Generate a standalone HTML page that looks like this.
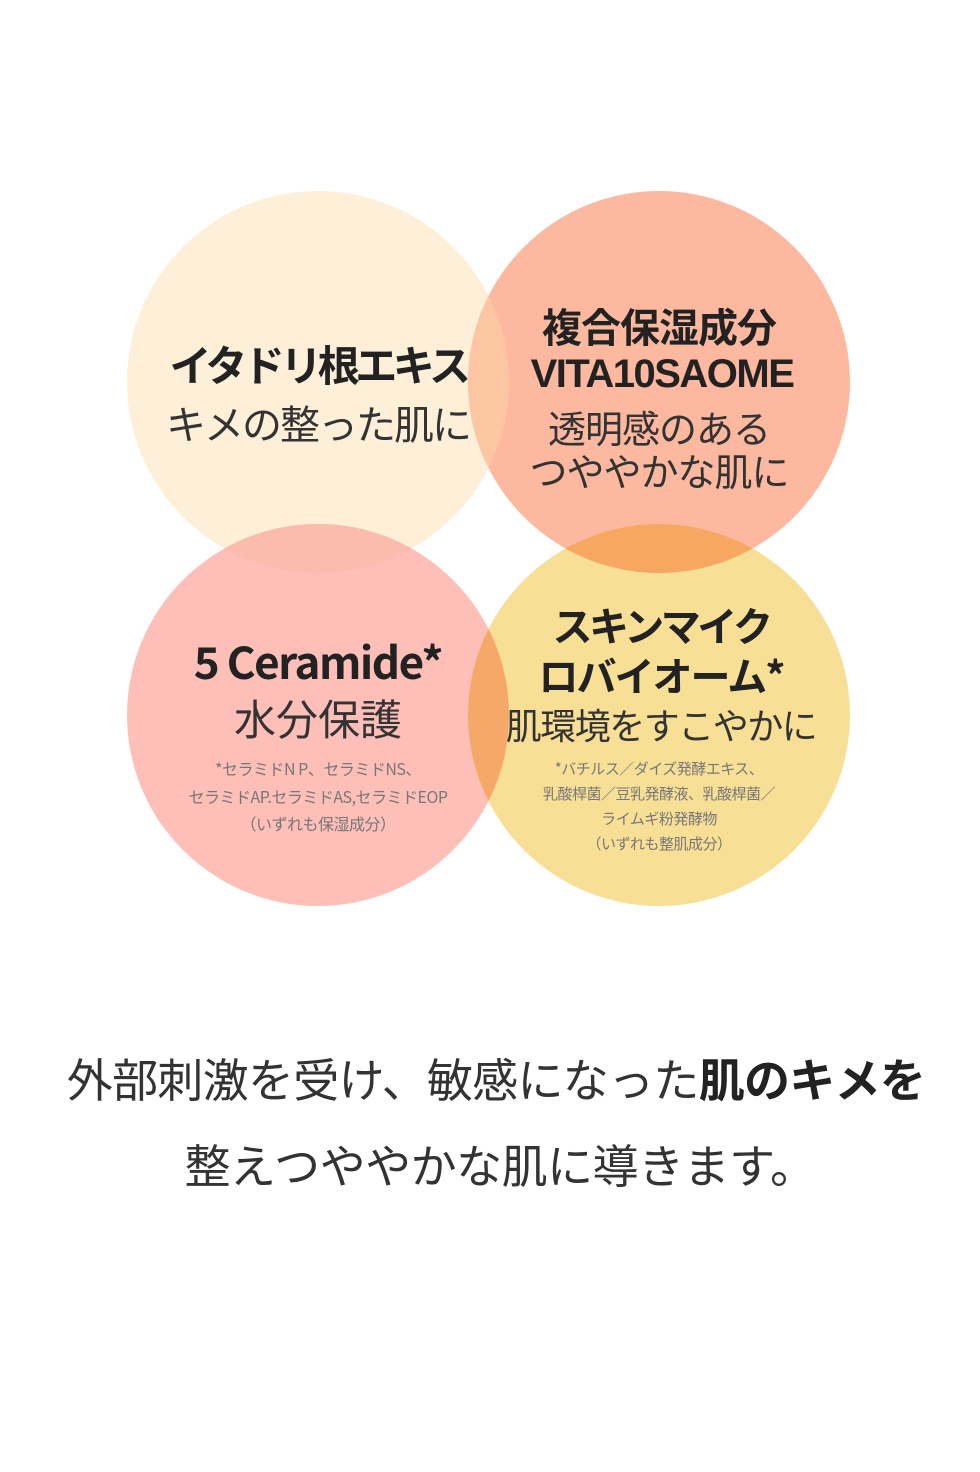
<!DOCTYPE html>
<html><head><meta charset="utf-8"><style>
body{margin:0;background:#fff;width:980px;height:1472px;overflow:hidden;font-family:"Liberation Sans","Noto Sans CJK JP",sans-serif;}
svg{position:absolute;left:0;top:0}
.t{position:absolute;text-align:center;color:#222;white-space:nowrap;font-family:"Noto Sans CJK JP",sans-serif;line-height:1}
.b{font-weight:700}
.s{color:#777;font-size:16px;letter-spacing:-0.5px}
</style></head><body>
<svg width="980" height="1472">
<defs>
<clipPath id="tr"><circle cx="659" cy="382" r="191"/></clipPath>
<clipPath id="br"><circle cx="659" cy="715" r="191"/></clipPath>
<clipPath id="bl"><circle cx="318" cy="715" r="191"/></clipPath>
</defs>
<circle cx="318" cy="382" r="191" fill="#fef0d8"/>
<circle cx="659" cy="382" r="191" fill="#fdb9a0"/>
<circle cx="318" cy="715" r="191" fill="#fdbfb8"/>
<circle cx="659" cy="715" r="191" fill="#f8df96"/>
<circle cx="318" cy="382" r="191" fill="#fcc6a2" clip-path="url(#tr)"/>
<circle cx="318" cy="382" r="191" fill="#fbbcae" clip-path="url(#bl)"/>
<circle cx="659" cy="382" r="191" fill="#f6a862" clip-path="url(#br)"/>
<circle cx="318" cy="715" r="191" fill="#f6a868" clip-path="url(#br)"/>
</svg>
<div class="t b" style="left:118px;width:400px;top:343px;font-size:42px;letter-spacing:-4.5px">イタドリ根エキス</div>
<div class="t" style="left:118px;width:400px;top:402px;font-size:40px;color:#333;letter-spacing:-2px">キメの整った肌に</div>
<div class="t b" style="left:459px;width:400px;top:305px;font-size:40px;letter-spacing:-1px">複合保湿成分</div>
<div class="t b" style="left:462px;width:400px;top:354px;font-size:40px;font-family:'Liberation Sans',sans-serif;letter-spacing:-1.5px">VITA10SAOME</div>
<div class="t" style="left:459px;width:400px;top:408px;font-size:38px;color:#333;letter-spacing:-1px">透明感のある</div>
<div class="t" style="left:459px;width:400px;top:451px;font-size:38px;color:#333;letter-spacing:-1px">つややかな肌に</div>
<div class="t b" style="left:118px;width:400px;top:638px;font-size:44px;letter-spacing:-1.5px">5 Ceramide*</div>
<div class="t" style="left:118px;width:400px;top:697px;font-size:42px;color:#333">水分保護</div>
<div class="t s" style="left:118px;width:400px;top:760px">*セラミドN P、セラミドNS、</div>
<div class="t s" style="left:118px;width:400px;top:788px">セラミドAP.セラミドAS,セラミドEOP</div>
<div class="t s" style="left:118px;width:400px;top:815px">（いずれも保湿成分）</div>
<div class="t b" style="left:461px;width:400px;top:604px;font-size:40px;letter-spacing:-3.5px">スキンマイク</div>
<div class="t b" style="left:461px;width:400px;top:654px;font-size:40px;letter-spacing:-2px">ロバイオーム*</div>
<div class="t" style="left:461px;width:400px;top:706px;font-size:36px;color:#333;letter-spacing:-1.5px">肌環境をすこやかに</div>
<div class="t s" style="left:459px;width:400px;top:761px;font-size:15px">*バチルス／ダイズ発酵エキス、</div>
<div class="t s" style="left:459px;width:400px;top:786px;font-size:15px">乳酸桿菌／豆乳発酵液、乳酸桿菌／</div>
<div class="t s" style="left:459px;width:400px;top:811px;font-size:15px">ライムギ粉発酵物</div>
<div class="t s" style="left:459px;width:400px;top:836px;font-size:15px">（いずれも整肌成分）</div>
<div class="t" style="left:6px;width:980px;top:1055px;font-size:46px;color:#333;letter-spacing:-0.7px">外部刺激を受け、敏感になった<b style="color:#222">肌のキメを</b></div>
<div class="t" style="left:0;width:1000px;top:1141px;font-size:46px;color:#333;letter-spacing:-0.5px">整えつややかな肌に導きます。</div>
</body></html>
